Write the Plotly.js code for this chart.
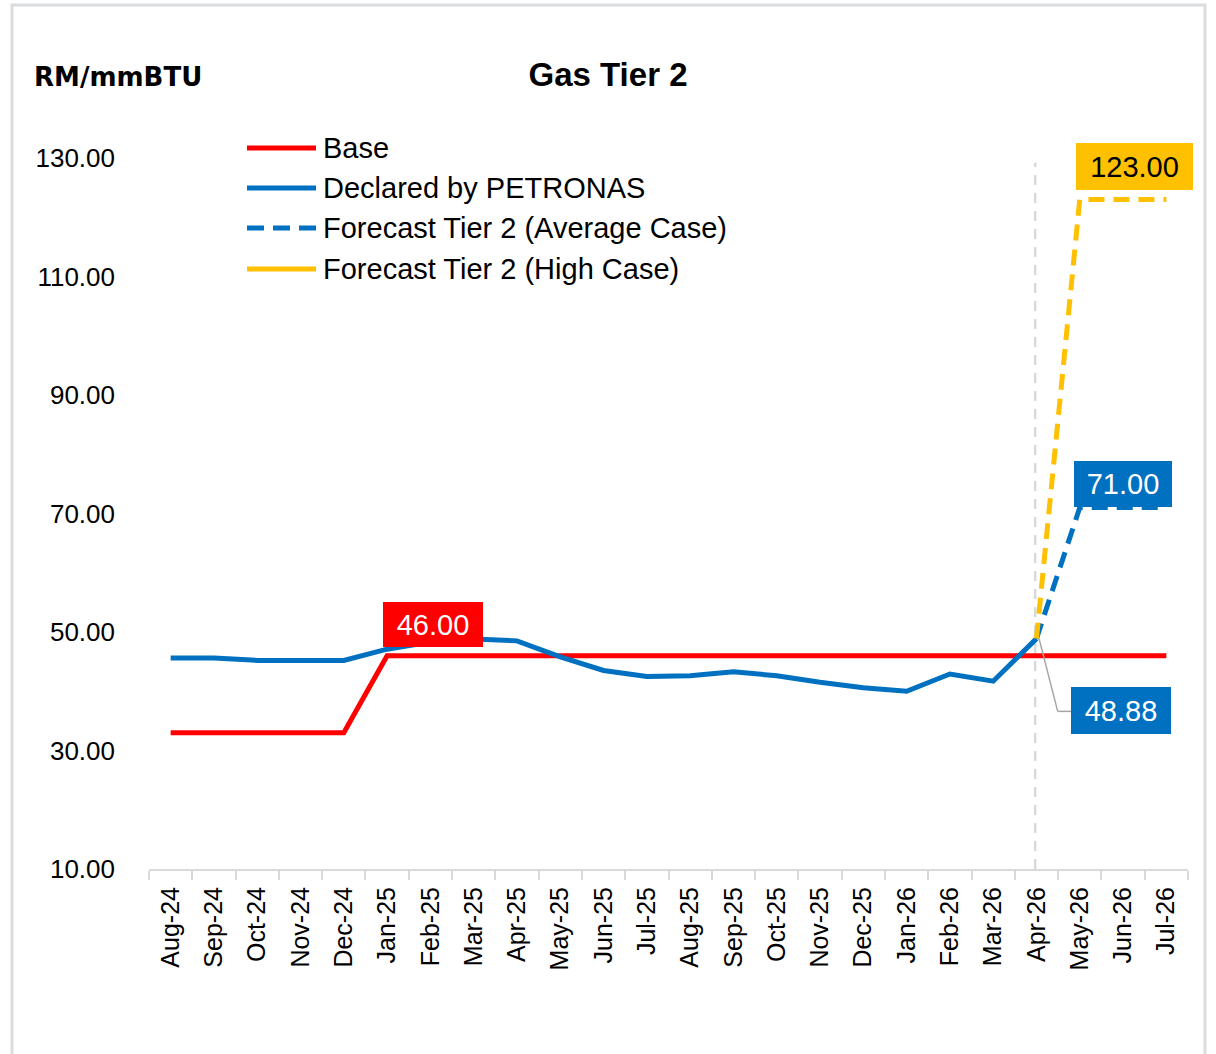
<!DOCTYPE html>
<html>
<head>
<meta charset="utf-8">
<script src="https://cdn.plot.ly/plotly-3.0.1.min.js"></script>
<style>
  html, body { margin: 0; padding: 0; background: #ffffff; }
  #chart { width: 1216px; height: 1054px; }
</style>
</head>
<body>
<div id="chart"></div>
<script>
// ---------- DATA ----------
const months = ['Aug-24','Sep-24','Oct-24','Nov-24','Dec-24','Jan-25','Feb-25','Mar-25','Apr-25','May-25','Jun-25','Jul-25',
                'Aug-25','Sep-25','Oct-25','Nov-25','Dec-25','Jan-26','Feb-26','Mar-26','Apr-26','May-26','Jun-26','Jul-26'];
const seriesNames = ['Base', 'Declared by PETRONAS', 'Forecast Tier 2 (Average Case)', 'Forecast Tier 2 (High Case)'];
const baseValues = [33,33,33,33,33,46,46,46,46,46,46,46,46,46,46,46,46,46,46,46,46,46,46,46];
const declaredValues = [45.6,45.6,45.2,45.2,45.2,47.1,48.3,48.8,48.5,45.8,43.5,42.5,42.6,43.3,42.6,41.5,40.6,40.0,42.9,41.7,48.88,null,null,null];
const averageCase = [null,null,null,null,null,null,null,null,null,null,null,null,null,null,null,null,null,null,null,null,48.88,71,71,71];
const highCase = [null,null,null,null,null,null,null,null,null,null,null,null,null,null,null,null,null,null,null,null,48.88,123,123,123];
const yTicks = [10, 30, 50, 70, 90, 110, 130];

// ---------- STYLE ----------
const RED = '#FF0000', BLUE = '#0070C0', GOLD = '#FFC000', LIGHT = '#D9D9D9';
const FONT = 'Liberation Sans, Arial, sans-serif';
const W = 1216, H = 1054;
const M = { l: 149, r: 28, t: 152, b: 185 };
const plotW = W - M.l - M.r, plotH = H - M.t - M.b;
const px2x = px => (px - M.l) / plotW;
const px2y = py => (H - M.b - py) / plotH;

const lineTrace = (name, y, color, dash) => ({
  type: 'scatter', mode: 'lines', name: name, x: months, y: y,
  line: { color: color, width: 5, dash: dash || 'solid' },
  connectgaps: false, showlegend: false, hoverinfo: 'skip'
});

const traces = [
  lineTrace(seriesNames[0], baseValues, RED),
  lineTrace(seriesNames[1], declaredValues, BLUE),
  lineTrace(seriesNames[2], averageCase, BLUE, '16px,9px'),
  lineTrace(seriesNames[3], highCase, GOLD, '16px,9px')
];

const lastIdx = arr => { for (let i = arr.length - 1; i >= 0; i--) if (arr[i] !== null) return i; return -1; };
const iDecl = lastIdx(declaredValues);
const iAvg = lastIdx(averageCase);
const iHigh = lastIdx(highCase);

const shapes = [];
// outer frame
shapes.push({ type: 'rect', xref: 'paper', yref: 'paper',
  x0: px2x(12), x1: px2x(1205), y0: px2y(1100), y1: px2y(5),
  line: { color: '#DADCDF', width: 3 }, fillcolor: 'rgba(0,0,0,0)', layer: 'below' });
// vertical dashed marker at forecast start
shapes.push({ type: 'line', xref: 'x', yref: 'y', x0: iDecl - 0.03, x1: iDecl - 0.03, y0: 10, y1: 129.2,
  line: { color: LIGHT, width: 2.5, dash: '10px,8px' }, layer: 'below' });
// leader line for the 48.88 label
const elbowY = 36.6;
shapes.push({ type: 'line', xref: 'x', yref: 'y', x0: iDecl + 0.06, y0: declaredValues[iDecl], x1: iDecl + 0.49, y1: elbowY,
  line: { color: '#A6A6A6', width: 1.5 } });
shapes.push({ type: 'line', xref: 'x', yref: 'y', x0: iDecl + 0.49, y0: elbowY, x1: iDecl + 0.8, y1: elbowY,
  line: { color: '#A6A6A6', width: 1.5 } });

// manual legend
const legendRows = [148, 188, 228, 269];
const legendStyles = [
  { color: RED, dash: 'solid' }, { color: BLUE, dash: 'solid' },
  { color: BLUE, dash: '17px,9px' }, { color: GOLD, dash: 'solid' }
];
const annotations = [];
seriesNames.forEach((name, k) => {
  shapes.push({ type: 'line', xref: 'paper', yref: 'paper',
    x0: px2x(247), x1: px2x(316), y0: px2y(legendRows[k]), y1: px2y(legendRows[k]),
    line: { color: legendStyles[k].color, width: 5, dash: legendStyles[k].dash } });
  annotations.push({ xref: 'paper', yref: 'paper', x: px2x(321), y: px2y(legendRows[k]),
    xanchor: 'left', yanchor: 'middle', showarrow: false, text: name,
    font: { family: FONT, size: 29, color: '#000000' } });
});

// unit label
annotations.push({ xref: 'paper', yref: 'paper', x: px2x(32), y: px2y(77), xanchor: 'left', yanchor: 'middle',
  showarrow: false, text: '<b>RM/mmBTU</b>', font: { family: 'DejaVu Sans, sans-serif', size: 26, color: '#000000' } });

// value labels
const valueLabel = (xi, yv, text, bg, fg, w, h, xs, ys) => ({
  xref: 'x', yref: 'y', x: xi, y: yv, xshift: xs, yshift: ys, showarrow: false,
  text: text, bgcolor: bg, width: w, height: h, borderpad: 0, borderwidth: 0,
  align: 'center', valign: 'middle', font: { family: FONT, size: 29, color: fg }
});
annotations.push(valueLabel(6, baseValues[6], baseValues[6].toFixed(2), RED, '#FFFFFF', 100, 45, 3, 31));
annotations.push(valueLabel(iDecl, declaredValues[iDecl], declaredValues[iDecl].toFixed(2), BLUE, '#FFFFFF', 100, 47, 85, -72));
annotations.push(valueLabel(iAvg - 1, averageCase[iAvg], averageCase[iAvg].toFixed(2), BLUE, '#FFFFFF', 98, 46, 0, 24));
annotations.push(valueLabel(iHigh - 1, highCase[iHigh], highCase[iHigh].toFixed(2), GOLD, '#000000', 117, 47, 11, 33));

const layout = {
  width: W, height: H,
  margin: M,
  paper_bgcolor: '#FFFFFF', plot_bgcolor: '#FFFFFF',
  showlegend: false,
  hovermode: false,
  title: { text: '<b>Gas Tier 2</b>', x: 0.5, xref: 'container', xanchor: 'center',
    y: 1 - 74 / H, yref: 'container', yanchor: 'middle',
    font: { family: FONT, size: 33, color: '#000000' } },
  xaxis: {
    type: 'category', categoryorder: 'array', categoryarray: months,
    range: [-0.5, months.length - 0.5],
    showgrid: false, zeroline: false,
    showline: true, linecolor: LIGHT, linewidth: 2,
    ticks: 'outside', tickson: 'boundaries', ticklen: 9, tickwidth: 2, tickcolor: LIGHT,
    tickangle: -90, ticklabelstandoff: 6,
    tickfont: { family: FONT, size: 25, color: '#000000' },
    fixedrange: true
  },
  yaxis: {
    range: [10, 131],
    tickvals: yTicks, ticktext: yTicks.map(v => v.toFixed(2)),
    showgrid: false, zeroline: false, showline: false,
    ticks: '', ticklabelstandoff: 33,
    tickfont: { family: FONT, size: 26, color: '#000000' },
    fixedrange: true
  },
  shapes: shapes,
  annotations: annotations
};

Plotly.newPlot('chart', traces, layout, { displayModeBar: false, staticPlot: true });
</script>
</body>
</html>
